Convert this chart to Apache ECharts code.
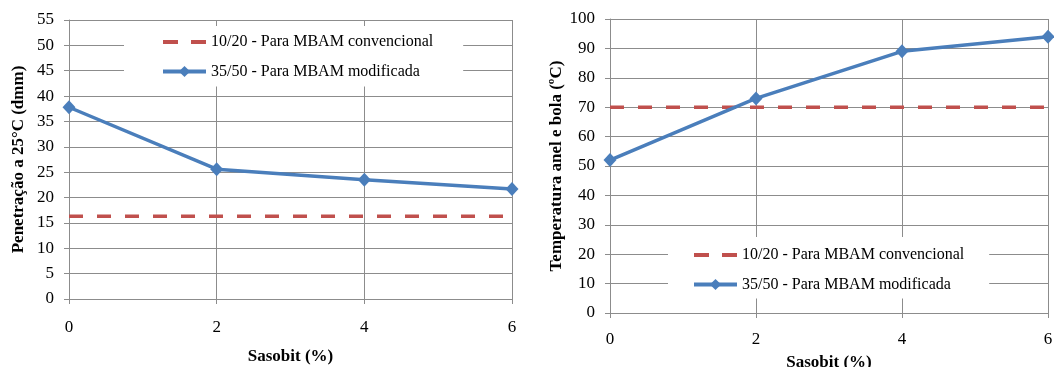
<!DOCTYPE html>
<html>
<head>
<meta charset="utf-8">
<script src="https://cdn.jsdelivr.net/npm/echarts@6/dist/echarts.min.js"></script>
<style>
  html, body { margin: 0; padding: 0; background: #fff; }
  #chart { width: 1054px; height: 367px; }
</style>
</head>
<body>
<div id="chart"></div>
<script>
// dados
var sasobit = [0, 2, 4, 6]
var penConvencional = [16.3, 16.3, 16.3, 16.3]   // 10/20
var penModificada = [37.8, 25.6, 23.5, 21.7]     // 35/50
var tabConvencional = [70, 70, 70, 70]
var tabModificada = [52, 73, 89, 94]
var nomeConv = '10/20 - Para MBAM convencional'
var nomeMod = '35/50 - Para MBAM modificada'

var FONT = 'Liberation Serif'
var GRID = '#8c8c8c'
var RED = '#c0504d'
var BLUE = '#4a7ebb'

function pares(xs, ys) {
  return xs.map(function (x, i) { return [x, ys[i]] })
}

function eixoX(idx, margin, gap) {
  return {
    gridIndex: idx,
    type: 'value',
    min: 0,
    max: 6,
    interval: 2,
    name: 'Sasobit (%)',
    nameLocation: 'middle',
    nameGap: gap,
    nameTextStyle: { fontFamily: FONT, fontWeight: 'bold', fontSize: 17, color: '#000' },
    axisLine: { show: true, lineStyle: { color: GRID, width: 1 } },
    axisTick: { show: true, length: 5, lineStyle: { color: GRID } },
    axisLabel: { margin: margin, fontFamily: FONT, fontSize: 17, color: '#000' },
    splitLine: { show: true, lineStyle: { color: GRID, width: 1 } }
  }
}

function eixoY(idx, max, interval, nome, gap) {
  return {
    gridIndex: idx,
    type: 'value',
    min: 0,
    max: max,
    interval: interval,
    name: nome,
    nameLocation: 'middle',
    nameGap: gap,
    nameRotate: 90,
    nameTextStyle: { fontFamily: FONT, fontWeight: 'bold', fontSize: 17, color: '#000' },
    axisLine: { show: true, lineStyle: { color: GRID, width: 1 } },
    axisTick: { show: true, length: 5, lineStyle: { color: GRID } },
    axisLabel: { margin: 15, fontFamily: FONT, fontSize: 17, color: '#000' },
    splitLine: { show: true, lineStyle: { color: GRID, width: 1 } }
  }
}

function serieConv(idx, dados) {
  return {
    name: nomeConv,
    type: 'line',
    xAxisIndex: idx,
    yAxisIndex: idx,
    data: pares(sasobit, dados),
    symbol: 'none',
    lineStyle: { color: RED, width: 3.5, type: [14, 14] },
    itemStyle: { color: RED },
    z: 3
  }
}

function serieMod(idx, dados) {
  return {
    name: nomeMod,
    type: 'line',
    xAxisIndex: idx,
    yAxisIndex: idx,
    data: pares(sasobit, dados),
    symbol: 'diamond',
    symbolSize: [13, 14],
    lineStyle: { color: BLUE, width: 3.5 },
    itemStyle: { color: BLUE },
    z: 4
  }
}

function legenda(left, top, padding) {
  return {
    orient: 'vertical',
    left: left,
    top: top,
    padding: padding,
    backgroundColor: '#fff',
    itemWidth: 43,
    itemHeight: 14,
    itemGap: 13.5,
    data: [
      { name: nomeConv, itemStyle: { opacity: 0 }, lineStyle: { width: 4, type: [15, 13] } },
      { name: nomeMod, lineStyle: { width: 4 } }
    ],
    textStyle: { fontFamily: FONT, fontSize: 16, color: '#000' },
    z: 10
  }
}

var myChart = echarts.init(document.getElementById('chart'))

var option = {
  animation: false,
  backgroundColor: '#fff',
  legend: [
    legenda(124, 26, [8, 30, 7, 37]),
    legenda(668, 237, [10, 25, 6, 24])
  ],
  grid: [
    { left: 69, width: 443, top: 20, height: 279, containLabel: false, outerBoundsMode: 'none' },
    { left: 610, width: 438, top: 19, height: 294, containLabel: false, outerBoundsMode: 'none' }
  ],
  xAxis: [eixoX(0, 20, 49), eixoX(1, 18, 41)],
  yAxis: [
    eixoY(0, 55, 5, 'Penetração a 25°C (dmm)', 42),
    eixoY(1, 100, 10, 'Temperatura anel e bola (ºC)', 43)
  ],
  series: [
    serieConv(0, penConvencional),
    serieMod(0, penModificada),
    serieConv(1, tabConvencional),
    serieMod(1, tabModificada)
  ]
}

myChart.setOption(option)
window.onresize = function () {
  myChart.resize()
}
</script>
</body>
</html>
